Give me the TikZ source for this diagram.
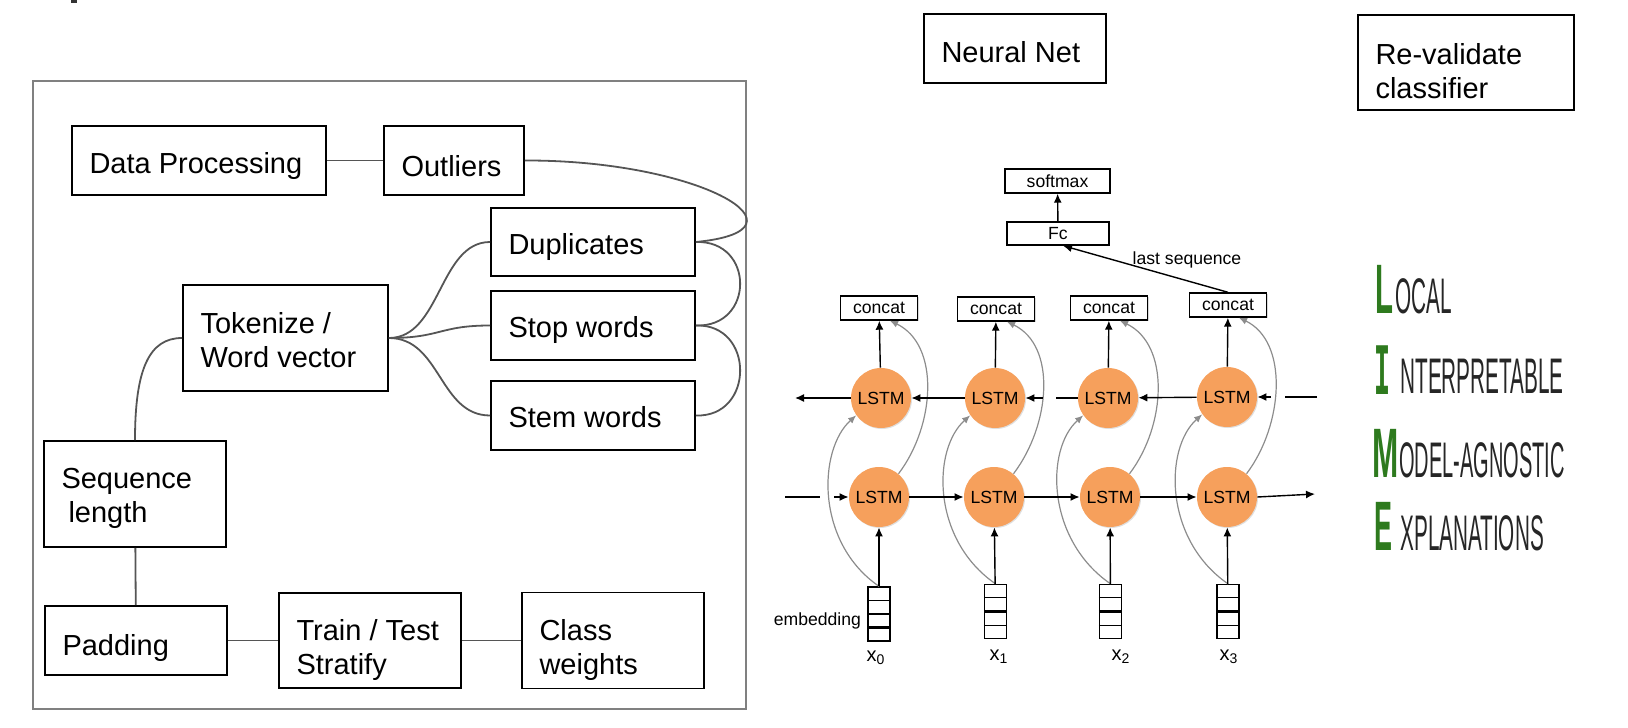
\documentclass[tikz,border=0pt]{standalone}
\usepackage{graphicx}
\usepackage{fontspec}
\setmainfont{Liberation Sans}
\newfontfamily\limemono{Liberation Mono}
\usetikzlibrary{arrows.meta,calc,shadows}
\hyphenpenalty=10000
\exhyphenpenalty=10000
\definecolor{lstmorange}{RGB}{246,160,92}
\definecolor{limeg}{RGB}{46,122,30}
\definecolor{linkgray}{RGB}{85,85,85}
\definecolor{framegray}{RGB}{128,128,128}
\definecolor{curvegray}{RGB}{140,140,140}
\begin{document}
\begin{tikzpicture}[x=0.5pt,y=-0.5pt,
  bigbox/.style={draw=black, line width=0.9pt, inner sep=0pt},
  bigtext/.style={anchor=west, align=left, inner sep=0pt, font=\fontsize{14.5}{17}\selectfont},
  link/.style={draw=linkgray, line width=0.9pt},
  nnbox/.style={draw=black, line width=0.7pt, fill=white, inner sep=0pt,
    font=\fontsize{8.8}{10}\selectfont,
    drop shadow={shadow xshift=0.7pt, shadow yshift=-0.7pt, opacity=0.3}},
  lstm/.style={circle, fill=lstmorange, minimum size=30pt, inner sep=0pt,
    font=\fontsize{8.8}{10}\selectfont,
    drop shadow={shadow xshift=0.5pt, shadow yshift=-0.5pt, opacity=0.25}},
  arr/.style={draw=black, line width=0.7pt, -{Latex[length=4.5pt,width=4pt]}},
  plainline/.style={draw=black, line width=0.7pt},
  garr/.style={draw=curvegray, line width=0.6pt, -{Latex[length=4pt,width=3.5pt]}},
  embbox/.style={draw=black, line width=0.7pt, minimum width=11pt, minimum height=27pt, inner sep=0pt},
  smalltext/.style={font=\fontsize{8.8}{10}\selectfont, inner sep=0pt},
  xlab/.style={font=\fontsize{10}{10}\selectfont, inner sep=0pt},
  limebig/.style={anchor=base west, inner sep=0pt, text=limeg},
  limesmall/.style={anchor=base west, inner sep=0pt, text=black!85},
]
\useasboundingbox (0,0) rectangle (1628,728);

% tiny mark top-left
\fill[black!80] (71,0) rectangle (77,3);

% ---------------- left panel ----------------
\node[draw=framegray, line width=0.8pt, minimum width=356.5pt, minimum height=314pt, inner sep=0pt] (frame) at (389.5,395) {};

\node[bigbox, minimum width=127pt, minimum height=34.5pt] (dp) at (199,160.5) {};
\node[bigtext] (dpt) at ([xshift=9pt,yshift=-3pt]dp.west) {Data Processing};
\node[bigbox, minimum width=70pt, minimum height=34.5pt] (out) at (454,160.5) {};
\node[bigtext] (outt) at ([xshift=9pt,yshift=-3pt]out.west) {Outliers};
\node[bigbox, minimum width=102pt, minimum height=34pt] (dup) at (593,242) {};
\node[bigtext] (dupt) at ([xshift=9pt,yshift=-2.5pt]dup.west) {Duplicates};
\node[bigbox, minimum width=102pt, minimum height=34.5pt] (stop) at (593,325.5) {};
\node[bigtext] (stopt) at ([xshift=9pt,yshift=-2pt]stop.west) {Stop words};
\node[bigbox, minimum width=102pt, minimum height=34.5pt] (stem) at (593,415.5) {};
\node[bigtext] (stemt) at ([xshift=9pt,yshift=-1pt]stem.west) {Stem words};
\node[bigbox, minimum width=102.5pt, minimum height=53pt] (tok) at (285.5,338) {};
\node[bigtext] (tokt) at ([xshift=9pt,yshift=-1pt]tok.west) {Tokenize /\\Word vector};
\node[bigbox, minimum width=91pt, minimum height=53pt] (seq) at (135,494) {};
\node[bigtext] (seqt) at ([xshift=9pt,yshift=-2pt]seq.west) {Sequence\\\hspace*{3.5pt}length};
\node[bigbox, minimum width=91pt, minimum height=34.5pt] (pad) at (136,640.5) {};
\node[bigtext] (padt) at ([xshift=9pt,yshift=-3.5pt]pad.west) {Padding};
\node[bigbox, minimum width=91pt, minimum height=47.5pt] (tt) at (370,640.5) {};
\node[bigtext] (ttt) at ([xshift=9pt,yshift=-4.5pt]tt.west) {Train / Test\\Stratify};
\node[bigbox, minimum width=91pt, minimum height=48pt] (cw) at (613,640.5) {};
\node[bigtext] (cwt) at ([xshift=9pt,yshift=-4.5pt]cw.west) {Class\\weights};

\draw[link] (dp) -- (out);
\draw[link] (out.east) .. controls (700,160) and (820,230) .. (dup.east);
\draw[link] (dup.east) .. controls +(59,-2) and +(59,2) .. (stop.east);
\draw[link] (stop.east) .. controls +(59,-2) and +(59,2) .. (stem.east);
\draw[link] (tok.east) .. controls +(52,0) and +(-51,0) .. (dup.west);
\draw[link] (tok.east) .. controls +(52,0) and +(-51,0) .. (stop.west);
\draw[link] (tok.east) .. controls +(52,0) and +(-51,0) .. (stem.west);
\draw[link] (seq.north) .. controls +(0,-71) and +(-33,0) .. (tok.west);
\draw[link] (seq) -- (pad);
\draw[link] (pad) -- (tt);
\draw[link] (tt) -- (cw);

% ---------------- top boxes ----------------
\node[bigbox, minimum width=91pt, minimum height=34.5pt] (nn) at (1015,48.5) {};
\node[bigtext] (nnt) at ([xshift=9pt,yshift=-2pt]nn.west) {Neural Net};
\node[bigbox, minimum width=108pt, minimum height=47.5pt] (rv) at (1466,62.5) {};
\node[bigtext] (rvt) at ([xshift=9pt,yshift=-4.5pt]rv.west) {Re-validate\\classifier};

% ---------------- neural net ----------------
\node[nnbox, minimum width=52.5pt, minimum height=12pt] (smax) at (1057.5,181) {softmax};
\node[nnbox, minimum width=51pt, minimum height=11.5pt] (fc) at (1058,233.5) {Fc};

\foreach \n/\x/\y in {1/879/308, 2/996/309, 3/1109/308, 4/1228/305}
  \node[nnbox, minimum width=38.5pt, minimum height=12pt] (c\n) at (\x,\y) {concat};
\foreach \n/\x/\y in {1/881/398, 2/995/398, 3/1108/398, 4/1227/397}
  \node[lstm] (t\n) at (\x,\y) {LSTM};
\foreach \n/\x/\y in {1/879/497, 2/994/497, 3/1110/497, 4/1227/497}
  \node[lstm] (b\n) at (\x,\y) {LSTM};
\foreach \n/\x/\y in {1/879/614, 2/995.5/611.5, 3/1110.5/611.5, 4/1228/611.5}
  \node[embbox] (e\n) at (\x,\y) {};

% embedding cells
\foreach \n/\th in {1/3, 2/2, 3/2, 4/2}{
  \foreach \k in {1,2,3}{
    \ifnum\k=\th\relax \def\lw{1.5pt}\else \def\lw{0.6pt}\fi
    \draw[line width=\lw] ($(e\n.north west)!\k/4!(e\n.south west)$) -- ($(e\n.north east)!\k/4!(e\n.south east)$);
  }
}

\node[smalltext, anchor=east] (emb) at ($(e1.west)+(-6,7)$) {embedding};
\node[xlab] (x0) at (876,658) {x\textsubscript{0}};
\node[xlab] (x1) at (999,657) {x\textsubscript{1}};
\node[xlab] (x2) at (1121,657) {x\textsubscript{2}};
\node[xlab] (x3) at (1229,657) {x\textsubscript{3}};

% gray skip curves
\foreach \n in {1,2,3,4}{
  \draw[garr] (e\n.north) .. controls +(-64,-44) and +(-38,34) .. (t\n.215);
  \draw[garr] (b\n.50) .. controls +(37,-49) and +(50,24) .. ($(c\n.south)+(11,0)$);
}

% vertical arrows
\foreach \n in {1,2,3,4}{
  \draw[arr] (t\n) -- (c\n);
  \draw[arr] (e\n) -- (b\n);
}
\draw[arr] (fc) -- (smax);
\draw[arr] (c4.north) -- ($(fc.south)+(5,0)$);
\node[smalltext] (lastseq) at (1187,260) {last sequence};

% bottom (forward) row
\coordinate (bl1) at (785,497);
\coordinate (bl2) at (820,497);
\coordinate (bl3) at (834,497);
\coordinate (br) at (1315,494);
\draw[plainline] (bl1) -- (bl2);
\draw[arr] (bl3) -- (b1.west);
\draw[arr] (b1) -- (b2);
\draw[arr] (b2) -- (b3);
\draw[arr] (b3) -- (b4);
\draw[arr] (b4.east) -- (br);

% top (backward) row
\coordinate (tl) at (795,398);
\coordinate (g23a) at (1056,398);
\coordinate (g23b) at (1043,398);
\coordinate (tr) at (1317,397);
\coordinate (g4a) at (1285,397);
\coordinate (g4b) at (1271,397);
\draw[arr] (t1.west) -- (tl);
\draw[arr] (t2) -- (t1);
\draw[plainline] (t3.west) -- (g23a);
\draw[arr] (g23b) -- (t2.east);
\draw[arr] (t4) -- (t3);
\draw[plainline] (tr) -- (g4a);
\draw[arr] (g4b) -- (t4.east);

% ---------------- LIME ----------------
\node[limebig] (lL) at (1375,313) {\scalebox{0.42}[1]{\fontsize{35}{35}\selectfont\bfseries L}};
\node[limesmall] (lLs) at (1395,313) {\scalebox{0.415}[1]{\fontsize{25}{25}\selectfont OCAL}};
\node[limebig] (lI) at (1374,394) {\scalebox{0.36}[1]{\fontsize{37}{37}\selectfont\limemono\bfseries I}};
\node[limesmall] (lIs) at (1400,393) {\scalebox{0.415}[1]{\fontsize{25}{25}\selectfont NTERPRETABLE}};
\node[limebig] (lM) at (1372,477) {\scalebox{0.45}[1]{\fontsize{35}{35}\selectfont\bfseries M}};
\node[limesmall] (lMs) at (1399,477) {\scalebox{0.40}[1]{\fontsize{25}{25}\selectfont ODEL-AGNOSTIC}};
\node[limebig] (lE) at (1374,550) {\scalebox{0.385}[1]{\fontsize{35}{35}\selectfont\bfseries E}};
\node[limesmall] (lEs) at (1400,550) {\scalebox{0.414}[1]{\fontsize{25}{25}\selectfont XPLANATIONS}};
\end{tikzpicture}
\end{document}
